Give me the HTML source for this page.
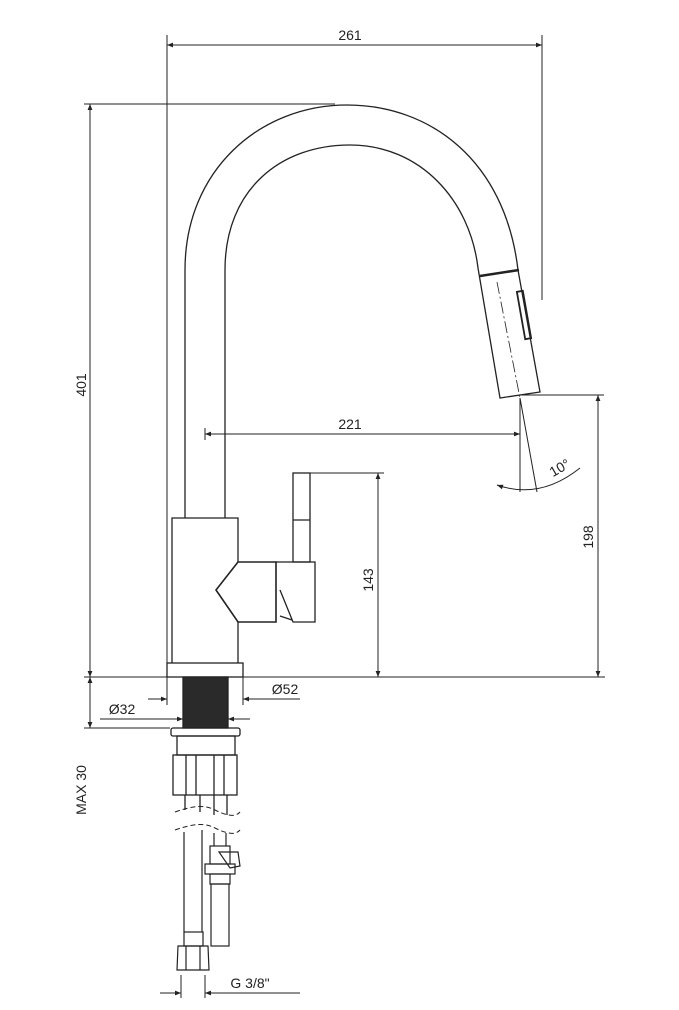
<!DOCTYPE html>
<html><head><meta charset="utf-8"><style>html,body{margin:0;padding:0;background:#fff}svg{display:block}text{font-family:"Liberation Sans",sans-serif;font-size:14px;fill:#222}</style></head><body>
<svg width="679" height="1010" viewBox="0 0 679 1010" xmlns="http://www.w3.org/2000/svg">
<defs><marker id="a" viewBox="0 0 10 10" refX="10" refY="5" markerWidth="10" markerHeight="6" orient="auto-start-reverse" markerUnits="userSpaceOnUse"><path d="M0,1 L10,5 L0,9z" fill="#222"/></marker></defs>
<g stroke="#222" stroke-width="1" fill="none">
<!-- dimension 261 -->
<line x1="167" y1="35" x2="167" y2="663"/>
<line x1="542" y1="35" x2="542" y2="300"/>
<line x1="167" y1="45" x2="542" y2="45" marker-start="url(#a)" marker-end="url(#a)"/>
<!-- 401 -->
<line x1="84" y1="104" x2="335" y2="104"/>
<line x1="90" y1="104" x2="90" y2="677" marker-start="url(#a)" marker-end="url(#a)"/>
<line x1="84" y1="677" x2="605" y2="677"/>
<!-- spout -->
<g stroke-width="1.3">
<path d="M185,270 C185,170 260,105 347,105 C430,105 505,160 518,270"/>
<path d="M225,270 C225,190 280,145 350,145 C420,145 470,200 478,268"/>
<line x1="185" y1="270" x2="185" y2="518"/>
<line x1="225" y1="270" x2="225" y2="518"/>
<path d="M478,268 L500,398 L540,392 L518,270"/>
<line x1="480" y1="276" x2="519" y2="270" stroke-width="2.5"/>
<rect x="521" y="291" width="6" height="48" transform="rotate(-10 524 315)" stroke-width="1.8"/>
</g>
<line x1="497" y1="282" x2="520" y2="398" stroke-dasharray="12,3,2,3" stroke-width="0.8"/>
<!-- body -->
<g stroke-width="1.3">
<path d="M172,663 L172,518 L238,518 L238,562"/>
<path d="M238,622 L238,663"/>
<path d="M238,562 L216,590 L238,622 L276,622 L276,562 Z" stroke-width="1.6"/>
<path d="M276,562 L315,562 L315,622 L293,622 L280,590"/>
<path d="M280,616 L292,620"/>
<rect x="293" y="473" width="17" height="89"/>
<line x1="293" y1="520" x2="310" y2="520"/>
<rect x="167" y="663" width="76" height="14"/>
<rect x="183" y="677" width="45" height="51" fill="#2a2a2a"/>
<rect x="171" y="728" width="69" height="8" rx="2"/>
<rect x="177" y="736" width="58" height="19"/>
<rect x="173" y="755" width="64" height="40"/>
<line x1="186" y1="755" x2="186" y2="795"/><line x1="196" y1="755" x2="196" y2="795"/>
<line x1="214" y1="755" x2="214" y2="795"/><line x1="224" y1="755" x2="224" y2="795"/>
<line x1="185" y1="795" x2="185" y2="810"/><line x1="200" y1="795" x2="200" y2="812"/>
<line x1="214" y1="795" x2="214" y2="815"/><line x1="227" y1="795" x2="227" y2="815"/>
</g>
<path d="M175,812 C195,805 205,805 215,810 S235,818 240,812" stroke-dasharray="5,3"/>
<path d="M175,830 C195,823 205,823 215,828 S235,836 240,830" stroke-dasharray="5,3"/>
<g stroke-width="1.2">
<line x1="184" y1="832" x2="184" y2="932"/><line x1="202" y1="830" x2="202" y2="932"/>
<rect x="184" y="932" width="19" height="14"/>
<path d="M178,946 L208,946 L209,970 L177,970 Z"/>
<line x1="186" y1="946" x2="186" y2="970"/><line x1="200" y1="946" x2="200" y2="970"/>
<line x1="214" y1="833" x2="214" y2="846"/><line x1="226" y1="833" x2="226" y2="846"/>
<rect x="210" y="846" width="20" height="18"/>
<path d="M219,852 L238,852 L240,866 L230,868 Z"/>
<rect x="205" y="864" width="30" height="10"/>
<rect x="210" y="874" width="20" height="10"/>
<rect x="211" y="884" width="18" height="62"/>
</g>
<!-- 221 -->
<line x1="205" y1="428" x2="205" y2="440"/>
<line x1="205" y1="434" x2="520" y2="434" marker-start="url(#a)" marker-end="url(#a)"/>
<!-- angle -->
<line x1="520" y1="398" x2="520" y2="492"/>
<line x1="520" y1="398" x2="537" y2="492"/>
<path d="M497,485 Q540,500 580,468" marker-start="url(#a)"/>
<!-- 143 -->
<line x1="310" y1="473" x2="384" y2="473"/>
<line x1="378" y1="473" x2="378" y2="677" marker-start="url(#a)" marker-end="url(#a)"/>
<!-- 198 -->
<line x1="522" y1="395" x2="604" y2="395"/>
<line x1="598" y1="395" x2="598" y2="677" marker-start="url(#a)" marker-end="url(#a)"/>
<!-- Ø52 -->
<line x1="167" y1="677" x2="167" y2="705"/><line x1="243" y1="677" x2="243" y2="705"/>
<line x1="148" y1="699" x2="167" y2="699" marker-end="url(#a)"/>
<line x1="300" y1="699" x2="243" y2="699" marker-end="url(#a)"/>
<!-- Ø32 -->
<line x1="100" y1="719" x2="183" y2="719" marker-end="url(#a)"/>
<line x1="250" y1="719" x2="228" y2="719" marker-end="url(#a)"/>
<!-- MAX30 -->
<line x1="84" y1="728" x2="170" y2="728"/>
<line x1="90" y1="677" x2="90" y2="728" marker-start="url(#a)" marker-end="url(#a)"/>
<!-- G 3/8 -->
<line x1="181" y1="975" x2="181" y2="998"/><line x1="205" y1="975" x2="205" y2="998"/>
<line x1="160" y1="993" x2="181" y2="993" marker-end="url(#a)"/>
<line x1="300" y1="993" x2="205" y2="993" marker-end="url(#a)"/>
</g>
<text x="350" y="40" text-anchor="middle">261</text>
<text x="350" y="429" text-anchor="middle">221</text>
<text transform="translate(86,385) rotate(-90)" text-anchor="middle">401</text>
<text transform="translate(373,580) rotate(-90)" text-anchor="middle">143</text>
<text transform="translate(593,537) rotate(-90)" text-anchor="middle">198</text>
<text transform="translate(86,790) rotate(-90)" text-anchor="middle">MAX 30</text>
<text transform="translate(562,472) rotate(-30)" text-anchor="middle">10°</text>
<text x="285" y="694" text-anchor="middle">Ø52</text>
<text x="122" y="714" text-anchor="middle">Ø32</text>
<text x="250" y="988" text-anchor="middle">G 3/8"</text>
</svg>
</body></html>
